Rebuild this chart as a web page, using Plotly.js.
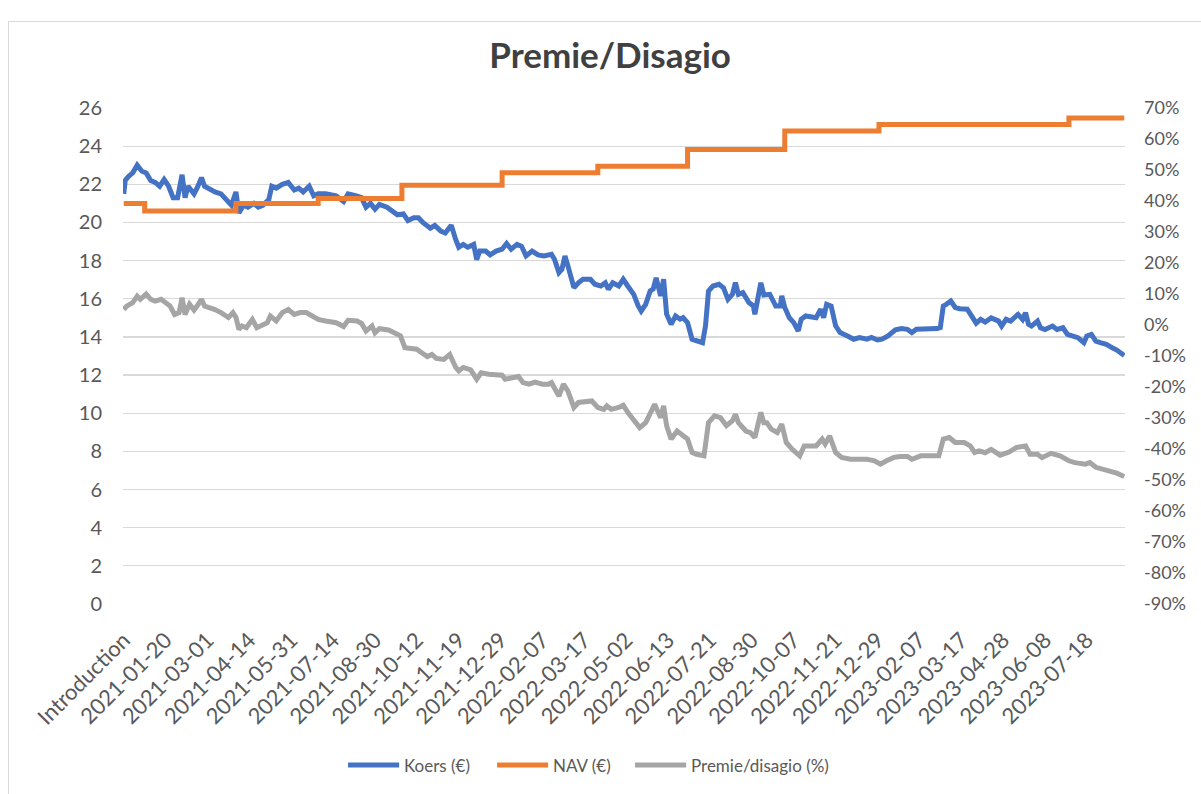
<!DOCTYPE html>
<html>
<head>
<meta charset="utf-8">
<script src="https://cdn.plot.ly/plotly-3.0.1.min.js"></script>
<style>
html,body{margin:0;padding:0;background:#fff;}
#wrap{position:relative;width:1201px;height:794px;overflow:hidden;}
#chart{position:absolute;left:0;top:0;width:1201px;height:794px;}
#frame{position:absolute;left:8px;top:21px;width:1200px;height:800px;border:1px solid #d9d9d9;pointer-events:none;}
</style>
</head>
<body>
<div id="wrap"><div id="chart"></div><div id="frame"></div></div>
<script>
// x positions are trading-day indices (category positions)
const tickIdx = [0,28,56,84,112,140,168,196,224,252,280,308,336,364,392,420,448,476,504,532,560,588,616,644];
const tickLabels = ["Introduction","2021-01-20","2021-03-01","2021-04-14","2021-05-31","2021-07-14","2021-08-30","2021-10-12","2021-11-19","2021-12-29","2022-02-07","2022-03-17","2022-05-02","2022-06-13","2022-07-21","2022-08-30","2022-10-07","2022-11-21","2022-12-29","2023-02-07","2023-03-17","2023-04-28","2023-06-08","2023-07-18"];
const rightTickVals = [-90,-80,-70,-60,-50,-40,-30,-20,-10,0,10,20,30,40,50,60,70];
const rightTickLabels = ["-90%","-80%","-70%","-60%","-50%","-40%","-30%","-20%","-10%","0%","10%","20%","30%","40%","50%","60%","70%"];

const koersIdx = [0,1,3,6,9,12,15,18,21,24,27,30,33,36,39,41,43,47,49,52,54,58,61,65,70,72,75,77,80,83,87,90,93,97,99,102,106,110,114,117,120,124,127,130,135,140,
142,147,150,155,159,162,165,168,171,176,179,183,187,190,194,197,200,205,208,212,215,219,222,224,227,230,234,236,238,242,245,249,253,256,259,263,266,269,273,277,281,
284,286,288,291,293,295,297,301,304,307,312,315,319,322,324,327,331,334,337,341,344,346,349,352,354,356,359,361,363,366,369,372,374,377,380,383,387,389,391,394,398,401,404,407,409,411,414,418,421,422,424,426,
428,430,432,436,439,440,442,445,448,451,453,456,460,463,466,468,470,473,476,479,484,488,492,497,500,504,507,511,516,520,524,527,530,535,539,544,546,548,550,553,556,559,564,567,570,
573,576,580,585,587,590,593,596,598,601,603,605,607,611,613,616,621,624,628,631,634,638,642,644,647,650,653,657,661,664,669];
const koersVal = [21.5,22.2,22.4,22.6,23.0,22.7,22.6,22.2,22.1,21.9,22.25,21.9,21.3,21.3,22.5,21.3,21.9,21.5,21.8,22.35,21.9,21.7,21.6,21.5,21.0,20.9,21.6,20.5,20.9,20.8,21.0,20.8,20.9,21.2,21.9,21.8,22.0,22.1,21.7,21.8,21.6,21.9,21.4,21.5,21.5,21.4,
21.4,21.1,21.5,21.4,21.3,20.8,21.0,20.7,20.95,20.8,20.6,20.4,20.45,20.1,20.25,20.25,20.0,19.7,19.85,19.55,19.45,19.85,19.1,18.7,18.85,18.7,18.85,18.05,18.5,18.5,18.3,18.5,18.6,18.9,18.6,18.85,18.75,18.25,18.5,18.3,18.25,
18.3,18.33,18.07,17.37,17.54,18.24,17.72,16.58,16.84,17.02,17.02,16.76,16.67,16.84,16.5,16.84,16.67,17.02,16.67,16.23,15.62,15.36,15.71,16.41,16.5,17.1,16.15,17.02,15.19,14.66,15.1,14.93,15.01,14.75,13.88,13.79,13.7,14.58,16.41,16.67,16.76,16.58,15.97,16.23,16.84,16.23,16.32,15.8,15.62,15.19,16.23,16.84,
16.2,16.23,16.23,15.62,15.62,16.15,15.54,15.01,14.75,14.31,14.93,15.1,15.06,15.01,15.45,15.01,15.71,15.62,14.58,14.23,14.05,13.88,13.97,13.88,13.97,13.84,13.88,14.05,14.37,14.44,14.4,14.23,14.4,14.4,14.44,14.44,14.49,15.62,15.71,15.88,15.54,15.48,15.45,15.1,14.72,
14.92,14.78,15.0,14.83,14.57,14.92,14.83,15.09,15.18,14.92,15.27,14.66,14.57,14.83,14.48,14.39,14.57,14.39,14.48,14.13,14.05,13.96,13.7,14.05,14.13,13.78,13.7,13.61,13.43,13.31,13.03];

const navIdx = [0,14,75,130,186,253,317,377,442,505,632,669];
const navVal = [21.0,20.6,21.0,21.25,21.95,22.6,22.95,23.83,24.79,25.13,25.48,25.48];

const premieIdx = [0,2,6,9,11,15,18,21,25,28,31,34,37,39,41,44,47,49,52,54,58,61,65,70,73,75,77,79,82,86,89,92,96,98,102,106,110,114,118,122,126,130,135,
138,142,147,150,156,159,162,166,168,171,177,183,185,188,191,196,199,203,206,209,214,218,222,224,227,232,236,239,244,248,253,255,259,264,267,271,275,280,
284,286,291,294,297,301,304,309,313,317,321,323,326,331,334,337,342,345,349,352,355,359,361,363,366,370,373,377,380,383,388,391,395,399,403,407,409,411,416,419,422,424,426,428,
430,433,437,440,443,447,450,452,455,459,463,467,469,472,476,480,486,491,497,502,506,510,515,519,524,527,533,539,545,548,552,556,562,566,569,
572,576,580,586,592,597,603,606,611,614,620,626,632,636,643,646,650,653,657,661,664,669];
const premieVal = [5.0,6.1,7.2,9.3,8.3,10.0,8.3,7.7,8.3,7.4,6.1,3.4,4.0,8.8,3.4,6.7,4.8,6.1,8.3,6.1,5.6,5.0,4.0,2.4,4.0,2.5,-1.4,-0.3,-0.9,1.8,-0.9,-0.3,0.75,2.9,1.3,4.0,5.0,3.4,4.0,4.0,2.9,1.8,1.3,
1.0,0.75,-0.5,1.5,1.3,0.5,-1.9,-0.3,-2.5,-1.2,-1.6,-3.0,-3.5,-7.3,-7.6,-7.8,-8.9,-10.2,-9.5,-10.8,-11.1,-9.5,-13.7,-14.8,-13.7,-14.5,-17.5,-15.4,-15.9,-15.9,-16.2,-17.5,-17.0,-16.6,-18.6,-19.1,-18.4,-19.1,
-19.1,-18.6,-22.9,-19.1,-21.3,-26.6,-25.0,-24.5,-24.5,-26.6,-27.2,-26.1,-27.2,-26.6,-25.9,-28.2,-30.9,-33.1,-31.5,-28.2,-25.6,-29.9,-26.1,-32.5,-36.8,-34.2,-35.2,-36.8,-41.1,-41.7,-42.2,-31.5,-29.3,-29.9,-32.5,-30.9,-28.8,-31.5,-34.2,-34.7,-36.3,-31.5,-28.2,-31.5,
-31.5,-33.6,-34.7,-32.0,-37.9,-40.1,-41.1,-42.2,-39.0,-39.0,-39.0,-36.8,-38.4,-35.8,-41.1,-42.7,-43.3,-43.3,-43.3,-43.8,-44.9,-43.8,-42.7,-42.4,-42.4,-43.3,-42.2,-42.2,-42.2,-36.8,-36.3,-37.9,-37.9,-39.0,-41.1,
-40.6,-41.2,-40.1,-42.0,-41.0,-39.5,-39.0,-41.7,-41.7,-42.8,-41.4,-42.2,-43.8,-44.4,-44.9,-44.4,-45.9,-46.3,-46.6,-47.3,-47.8,-48.9];

const seriesNames = ['Koers (€)', 'NAV (€)', 'Premie/disagio (%)'];
const seriesColors = ['#4472C4', '#ED7D31', '#A5A5A5'];

const FONT = "Lato, 'Open Sans', sans-serif";
const LW = 5;
const traces = [
  {x: koersIdx, y: koersVal, type: 'scatter', mode: 'lines', name: seriesNames[0],
   line: {color: seriesColors[0], width: LW}, showlegend: false},
  {x: navIdx, y: navVal, type: 'scatter', mode: 'lines', name: seriesNames[1],
   line: {color: seriesColors[1], width: LW, shape: 'hv'}, showlegend: false},
  {x: premieIdx, y: premieVal, type: 'scatter', mode: 'lines', name: seriesNames[2],
   yaxis: 'y2', line: {color: seriesColors[2], width: LW}, showlegend: false}
];

// legend drawn with shapes + text (long line samples as in the original)
const legX = [0.2246, 0.3733, 0.511];   // paper x of each legend sample start
const legY = -0.3246;
const shapes = [], annotations = [];
for (let i = 0; i < 3; i++) {
  shapes.push({type: 'line', xref: 'paper', yref: 'paper', x0: legX[i], x1: legX[i] + 0.051,
               y0: legY, y1: legY, line: {color: seriesColors[i], width: LW}});
  annotations.push({xref: 'paper', yref: 'paper', x: legX[i] + 0.054, y: legY, xanchor: 'left',
                    yanchor: 'middle', showarrow: false, text: seriesNames[i],
                    font: {family: FONT, size: 17, color: '#595959'}});
}

const layout = {
  width: 1201, height: 794,
  margin: {l: 123, r: 76, t: 108, b: 190},
  paper_bgcolor: 'rgba(0,0,0,0)', plot_bgcolor: 'rgba(0,0,0,0)',
  font: {family: FONT, color: '#595959', size: 19},
  title: {text: '<b>Premie/Disagio</b>', font: {family: FONT, size: 35, color: '#404040'},
          x: 0.508, xanchor: 'center', y: 0.93, yanchor: 'middle'},
  showlegend: false,
  shapes: shapes, annotations: annotations,
  xaxis: {range: [-0.5, 669.5], tickmode: 'array', tickvals: tickIdx, ticktext: tickLabels,
          tickangle: -45, showgrid: false, zeroline: false, showline: false, ticks: '',
          ticklabelstandoff: 18,
          tickfont: {family: FONT, size: 22, color: '#595959'}, fixedrange: true},
  yaxis: {range: [0, 26], dtick: 2, tick0: 0, showgrid: true, gridcolor: '#d9d9d9', gridwidth: 1.3,
          zeroline: false, showline: false, ticks: '', ticklabelstandoff: 20,
          tickfont: {family: FONT, size: 20, color: '#595959'}},
  yaxis2: {range: [-90, 70], tickmode: 'array', tickvals: rightTickVals, ticktext: rightTickLabels,
           overlaying: 'y', side: 'right', showgrid: false,
           zeroline: false, showline: false, ticks: '', ticklabelstandoff: 18,
           tickfont: {family: FONT, size: 18, color: '#595959'}}
};

Plotly.newPlot('chart', traces, layout, {displayModeBar: false, staticPlot: true});
</script>
</body>
</html>
